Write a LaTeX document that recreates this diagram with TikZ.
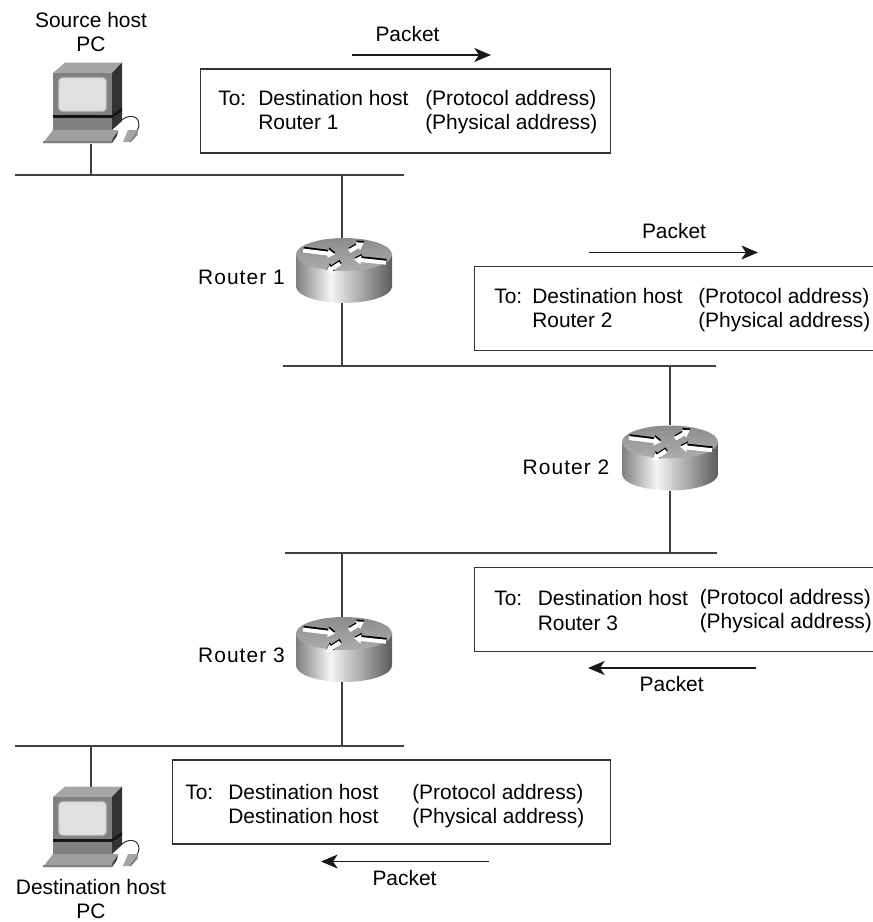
\documentclass[tikz,border=0pt]{standalone}
\usepackage{fontspec}
\setmainfont{Liberation Sans}
\usetikzlibrary{arrows.meta}
\definecolor{lnk}{gray}{0.25}
\pgfdeclarehorizontalshading{routerbody}{100bp}{rgb(0bp)=(.5,.5,.5);rgb(25bp)=(.5,.5,.5);rgb(43bp)=(.96,.96,.96);rgb(75bp)=(.36,.36,.36);rgb(100bp)=(.36,.36,.36)}
\newfontfamily\spacedfont[LetterSpace=5]{Liberation Sans}
\tikzset{
  x=0.75pt,y=-0.75pt,
  wire/.style={draw=lnk,line width=0.8pt},
  infobox/.style={draw=black!80,line width=0.8pt,fill=white,inner sep=0pt,minimum height=63pt},
  flow/.style={draw=black!90,line width=0.8pt,-{Stealth[length=12.5pt,width=10.5pt,inset=3.5pt]}},
  lbl/.style={inner sep=0pt,font=\fontsize{15.7}{18}\selectfont,text=black,align=center},
  rlbl/.style={inner sep=0pt,font=\spacedfont\fontsize{15.7}{18}\selectfont,text=black},
  txt/.style={inner sep=0pt,anchor=base west,font=\fontsize{15.7}{18}\selectfont,text=black},
  hub/.style={inner sep=0pt,minimum width=72pt,minimum height=49pt,draw=none},
  host/.style={inner sep=0pt,minimum width=1pt,minimum height=1pt,draw=none},
}
\newcommand{\myarrowshape}[1]{(-#1,-2) -- (#1-7,-2) -- (#1-7,-4.5) -- (#1,0) -- (#1-7,4.5) -- (#1-7,2) -- (-#1,2) -- cycle}
\newcommand{\myarrow}[4]{% x y rotation halflength
  \fill[black,shift={(#1+0.5,#2-1.8)},rotate=#3] \myarrowshape{#4};
  \fill[white,shift={(#1,#2)},rotate=#3] \myarrowshape{#4};}
\newcommand{\routerdraw}[2]{%
  \begin{scope}[shift={(#1,#2)}]
    \shade[shading=routerbody]
      (-48,-16) -- (-48,16) arc[start angle=180,end angle=0,x radius=48,y radius=16.5] -- (48,-16) -- cycle;
    \shade[top color=black!45,bottom color=black!32] (0,-16) ellipse[x radius=48,y radius=16.5];
    \myarrow{-25}{-18}{-7}{16}
    \myarrow{26}{-9.5}{174}{16}
    \myarrow{12.5}{-23.5}{30}{8.5}
    \myarrow{-11}{-2.5}{213}{8.5}
  \end{scope}}
\newcommand{\pcdraw}[2]{%
  \begin{scope}[shift={(#1,#2)}]
    % top
    \fill[gray!70] (-38,11) -- (-26,0.5) -- (31,0.5) -- (21,11) -- cycle;
    % side
    \fill[black!80] (21,11) -- (31,0.5) -- (31,47) -- (21,54) -- cycle;
    % monitor front
    \fill[gray] (-38,11) rectangle (21,53);
    \fill[black!12,draw=black!32,line width=0.8pt,rounded corners=3pt] (-32.5,15.5) rectangle (15.5,49.5);
    % stripe
    \fill[black!92] (-38,53) -- (21,53) -- (31,46) -- (31,50) -- (21,56.5) -- (-38,56.5) -- cycle;
    % base
    \fill[gray] (-38,56) rectangle (21,68);
    \fill[black!80] (21,56) -- (31,49.5) -- (31,59) -- (21,68) -- cycle;
    % cable
    \draw[black!85,line width=0.7pt] (31,58) .. controls (36,53) and (48,52) .. (48,63) .. controls (48,65) and (47,67) .. (45.7,69);
    % keyboard
    \fill[gray!75] (-38,68) -- (27,68) -- (21,81) -- (-48,81) -- cycle;
    \fill[gray] (-48,79) -- (21.5,79) -- (21,81) -- (-48,81) -- cycle;
    \fill[black!75] (27,69) -- (26,74) -- (21,81) -- (21.5,77) -- cycle;
    % mouse
    \fill[gray!70] (37,68) -- (47,68) -- (38,80) -- (32,80) -- cycle;
    \fill[gray] (47,68) -- (46.5,73) -- (40,80) -- (38,80) -- cycle;
  \end{scope}}
\begin{document}
\begin{tikzpicture}
\useasboundingbox (0,0) rectangle (872,922);
% bus ends
\coordinate (b1l) at (15,175); \coordinate (b1r) at (404,175);
\coordinate (b2l) at (283,366); \coordinate (b2r) at (716,366);
\coordinate (b3l) at (285,553); \coordinate (b3r) at (717,553);
\coordinate (b4l) at (15,746); \coordinate (b4r) at (404,746);
\coordinate (t1) at (91,175); \coordinate (t2) at (342,175); \coordinate (t3) at (342,366);
\coordinate (t4) at (670,366); \coordinate (t5) at (670,553);
\coordinate (t6) at (342,553); \coordinate (t7) at (342,746); \coordinate (t8) at (91,746);
% hosts and routers as named anchors
\node[host] (pc1) at (91,143) {};
\node[host] (pc2) at (91,790) {};
\node[hub] (r1) at (344,270.5) {};
\node[hub] (r2) at (670,458) {};
\node[hub] (r3) at (344,649.5) {};
% wires
\draw[wire] (b1l) -- (b1r);
\draw[wire] (b2l) -- (b2r);
\draw[wire] (b3l) -- (b3r);
\draw[wire] (b4l) -- (b4r);
\draw[wire] (pc1) -- (t1);
\draw[wire] (t2) -- (r1.north -| t2);
\draw[wire] (r1.south -| t3) -- (t3);
\draw[wire] (t4) -- (r2.north -| t4);
\draw[wire] (r2.south -| t5) -- (t5);
\draw[wire] (t6) -- (r3.north -| t6);
\draw[wire] (r3.south -| t7) -- (t7);
\draw[wire] (t8) -- (pc2);
% icons
\pcdraw{91}{62}
\pcdraw{91}{786}
\routerdraw{344}{270.5}
\routerdraw{670}{458}
\routerdraw{344}{649.5}
% labels
\node[lbl] (pc1l) at (91,32.5) {Source host\\PC};
\node[lbl] (pc2l) at (91,899.5) {Destination host\\PC};
\node[rlbl] (r1l) at (241.5,277) {Router 1};
\node[rlbl] (r2l) at (566,467) {Router 2};
\node[rlbl] (r3l) at (241.5,655) {Router 3};
% boxes
\node[infobox,minimum width=307pt] (box1) at (405.5,111) {};
\node[infobox,minimum width=301pt] (box2) at (675.5,308.5) {};
\node[infobox,minimum width=301pt] (box3) at (675.5,609.5) {};
\node[infobox,minimum width=328pt] (box4) at (391.5,802) {};
\node[txt] at (218,105) {To:}; \node[txt] at (258,105) {Destination host}; \node[txt] at (425,105) {(Protocol address)};
\node[txt] at (258,129) {Router 1}; \node[txt] at (425,129) {(Physical address)};
\node[txt] at (494,303) {To:}; \node[txt] at (532,303) {Destination host}; \node[txt] at (698,303) {(Protocol address)};
\node[txt] at (532,327.5) {Router 2}; \node[txt] at (698,327.5) {(Physical address)};
\node[txt] at (494,605) {To:}; \node[txt] at (537.5,605) {Destination host}; \node[txt] at (699.5,604) {(Protocol address)};
\node[txt] at (537.5,630) {Router 3}; \node[txt] at (699.5,628) {(Physical address)};
\node[txt] at (185,799) {To:}; \node[txt] at (228,799) {Destination host}; \node[txt] at (412,799) {(Protocol address)};
\node[txt] at (228,823) {Destination host}; \node[txt] at (412,823) {(Physical address)};
% packet flows
\coordinate (f1a) at (352,55); \coordinate (f1b) at (491,55);
\coordinate (f2a) at (589,252.5); \coordinate (f2b) at (758,252.5);
\coordinate (f3a) at (756,668); \coordinate (f3b) at (588,668);
\coordinate (f4a) at (489,861.5); \coordinate (f4b) at (321,861.5);
\draw[flow] (f1a) -- (f1b);
\draw[flow] (f2a) -- (f2b);
\draw[flow] (f3a) -- (f3b);
\draw[flow] (f4a) -- (f4b);
\node[lbl] (p1) at (407.5,34) {Packet};
\node[lbl] (p2) at (674,231) {Packet};
\node[lbl] (p3) at (671.7,684.5) {Packet};
\node[lbl] (p4) at (404.5,878) {Packet};
\end{tikzpicture}
\end{document}
